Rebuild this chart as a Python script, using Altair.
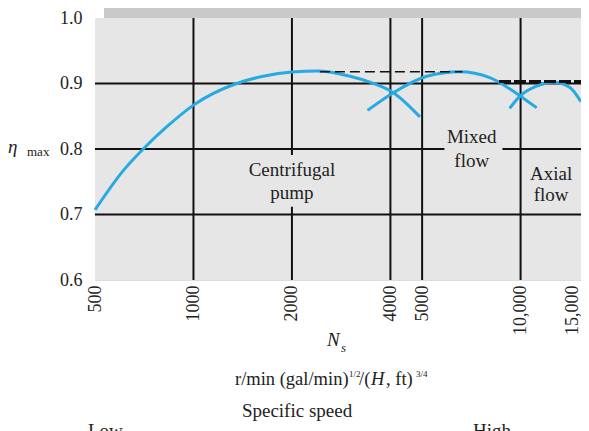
import altair as alt
import pandas as pd

# ---- data ----
cf_N = [500, 610, 702, 829, 1000, 1355, 1634, 2000, 2400, 3010, 3460, 4085, 4925]
cf_eta = [0.707, 0.767, 0.80, 0.834, 0.867, 0.90, 0.911, 0.9175, 0.919, 0.911, 0.902, 0.886, 0.849]

mx_N = [3405, 4085, 5166, 6500, 8050, 9260, 9970, 11200]
mx_eta = [0.859, 0.886, 0.911, 0.918, 0.909, 0.892, 0.881, 0.863]

ax_N = [9260, 9970, 11200, 12600, 14150, 15300]
ax_eta = [0.862, 0.881, 0.896, 0.902, 0.894, 0.872]

dash1_N = [2435, 6640]
dash1_eta = [0.918, 0.918]
dash2_N = [8590, 15300]
dash2_eta = [0.903, 0.903]

grid_x = [1000, 2000, 4000, 5000, 10000]
grid_y = [0.7, 0.8, 0.9]
x_ticks = [500, 1000, 2000, 4000, 5000, 10000, 15000]
y_ticks = [0.6, 0.7, 0.8, 0.9, 1.0]

labels_text = ["Centrifugal", "pump", "Mixed", "flow", "Axial", "flow"]
labels_N = [2000, 2000, 7090, 7090, 12400, 12400]
labels_eta = [0.768, 0.733, 0.818, 0.782, 0.762, 0.730]

W, H = 486, 262
FONT = "Liberation Serif"
BLUE = "#27a9e1"

xscale = alt.Scale(type="log", domain=[500, 15300], nice=False)
yscale = alt.Scale(domain=[0.6, 1.0], nice=False, zero=False)
xaxis = alt.Axis(values=x_ticks, labelAngle=270, ticks=False, domain=False, grid=False,
                 labelFont=FONT, labelFontSize=18, labelColor="#222", labelPadding=5,
                 labelExpr="datum.value >= 10000 ? format(datum.value, ',') : format(datum.value, 'd')",
                 labelOffset={"condition": {"test": "datum.value >= 15000", "value": -6}, "value": 0},
                 title=None, labelFlush=False, labelOverlap=False)
yaxis = alt.Axis(values=y_ticks, format=".1f", ticks=False, domain=False, grid=False,
                 labelFont=FONT, labelFontSize=18, labelColor="#222", labelPadding=13,
                 title=None, labelFlush=False, labelOverlap=False)

def X(field="N"):
    return alt.X(f"{field}:Q", scale=xscale, axis=xaxis)

def Y(field="eta"):
    return alt.Y(f"{field}:Q", scale=yscale, axis=yaxis)

one = pd.DataFrame({"a": [0]})

shadow = alt.Chart(one).mark_rect(color="#c9c9c9").encode(
    x=alt.value(9), x2=alt.value(494), y=alt.value(-11), y2=alt.value(252))
bg = alt.Chart(one).mark_rect(color="#e6e6e6").encode(
    x=alt.value(0), x2=alt.value(W), y=alt.value(0), y2=alt.value(H))

vgrid = alt.Chart(pd.DataFrame({"N": grid_x})).mark_rule(color="#111", strokeWidth=2).encode(
    x=X(), y=alt.value(0), y2=alt.value(H))
hgrid = alt.Chart(pd.DataFrame({"eta": grid_y})).mark_rule(color="#111", strokeWidth=2).encode(
    y=Y(), x=alt.value(0), x2=alt.value(W))

# label backgrounds (mask grid lines behind the annotation text)
lbg = alt.Chart(pd.DataFrame({"N": [1485, 5850], "N2": [2800, 8800],
                              "eta": [0.791, 0.832], "eta2": [0.712, 0.768]})).mark_rect(
    color="#e6e6e6").encode(x=X(), x2="N2:Q", y=Y(), y2="eta2:Q")

curves = pd.concat([
    pd.DataFrame({"N": cf_N, "eta": cf_eta, "c": "centrifugal"}),
    pd.DataFrame({"N": mx_N, "eta": mx_eta, "c": "mixed"}),
    pd.DataFrame({"N": ax_N, "eta": ax_eta, "c": "axial"}),
])
lines = alt.Chart(curves).mark_line(color=BLUE, strokeWidth=3, interpolate="monotone").encode(
    x=X(), y=Y(), detail="c:N")

d1 = alt.Chart(pd.DataFrame({"N": dash1_N, "eta": dash1_eta})).mark_line(
    color="#111", strokeWidth=1.5, strokeDash=[10, 5]).encode(x=X(), y=Y())
d2 = alt.Chart(pd.DataFrame({"N": dash2_N, "eta": dash2_eta})).mark_line(
    color="#111", strokeWidth=3, strokeDash=[12, 3]).encode(x=X(), y=Y())

labels = alt.Chart(pd.DataFrame({"N": labels_N, "eta": labels_eta, "t": labels_text})).mark_text(
    font=FONT, fontSize=19, color="#222").encode(x=X(), y=Y(), text="t:N")

def txt(s, x, y, size=19, style="normal", align="left", baseline="middle"):
    return alt.Chart(one).mark_text(text=s, font=FONT, fontSize=size, fontStyle=style,
                                    align=align, baseline=baseline, color="#222").encode(
        x=alt.value(x), y=alt.value(y))

annots = [
    txt("\u03b7", -87, 129, 19, "italic"),
    txt("max", -68, 134, 13),
    txt("N", 232, 322, 19, "italic"),
    txt("s", 246, 330, 13, "italic"),
    txt("r/min (gal/min)", 140, 361, 18.5),
    txt("1/2", 254, 356, 9),
    txt("/(", 264, 361, 18.5),
    txt("H", 276, 361, 18.5, "italic"),
    txt(", ft)", 291, 361, 18.5),
    txt("3/4", 321, 356, 9),
    txt("Specific speed", 202, 393, 19, align="center"),
    txt("Low", -7, 419, 19, baseline="alphabetic"),
    txt("High", 378, 419, 19, baseline="alphabetic"),
]

chart = alt.layer(shadow, bg, vgrid, hgrid, lbg, lines, d1, d2, labels, *annots).properties(
    width=W, height=H,
    autosize=alt.AutoSizeParams(type="none"),
    padding={"left": 87, "top": 10, "right": 0, "bottom": 151},
).configure_view(stroke=None).configure(background="white")

chart.save("out.html", embed_options={"renderer": "svg", "actions": False})
